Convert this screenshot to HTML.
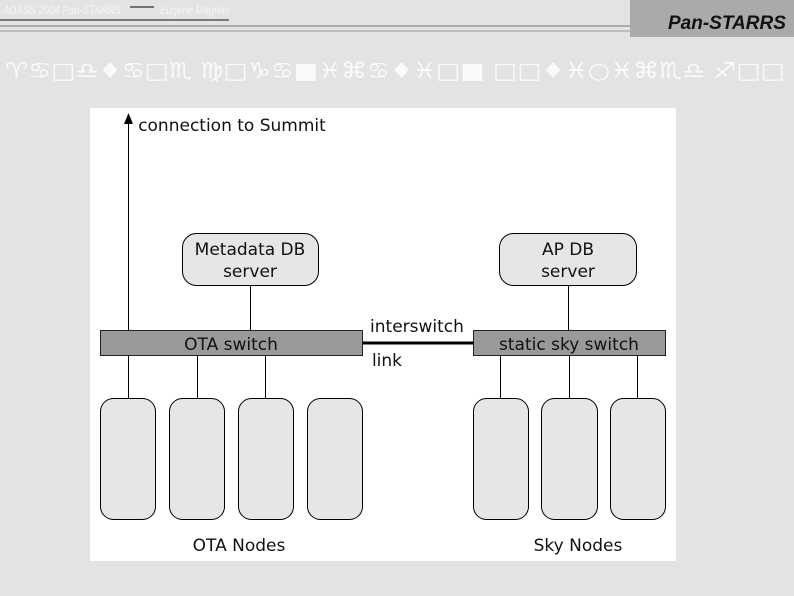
<!DOCTYPE html>
<html><head><meta charset="utf-8"><style>
html,body{margin:0;padding:0}
body{width:794px;height:596px;background:#e2e2e2;position:relative;overflow:hidden;font-family:"DejaVu Sans","Liberation Sans",sans-serif}
</style></head><body>
<svg width="794" height="596" style="position:absolute;left:0;top:0">
<rect x="0" y="0" width="794" height="596" fill="#e3e3e3"/>
<text x="3" y="14" font-size="12" font-style="italic" fill="#f4f4f4" font-family="Liberation Sans" textLength="118" lengthAdjust="spacingAndGlyphs">ADASS 2004   Pan-STARRS</text>
<line x1="130" y1="7" x2="154" y2="7" stroke="#000" stroke-width="1"/>
<text x="160" y="14" font-size="12" font-style="italic" fill="#f4f4f4" font-family="Liberation Sans" textLength="70" lengthAdjust="spacingAndGlyphs">Eugene Magnier</text>
<line x1="0" y1="20" x2="229" y2="20" stroke="#111" stroke-width="1"/>
<line x1="0" y1="26" x2="630" y2="26" stroke="#777" stroke-width="1"/>
<line x1="0" y1="31" x2="630" y2="31" stroke="#99a" stroke-width="1"/>
<rect x="630" y="0" width="164" height="37" fill="#aaa"/>
<text x="668" y="29" font-size="19" font-weight="bold" font-style="italic" fill="#111" font-family="Liberation Sans">Pan-STARRS</text>
<text x="5" y="78" font-size="22" fill="#fafafa" font-family="DejaVu Sans" textLength="780" lengthAdjust="spacingAndGlyphs">♈♋□♎♦♋□♏  ♍□♑♋■♓⌘♋♦♓□■  □□♦♓○♓⌘♏♎  ♐□□</text>
<rect x="90" y="108" width="586" height="453" fill="#fff"/>
<g stroke="#000" stroke-width="1" fill="none">
<line x1="128.5" y1="120" x2="128.5" y2="330"/>
<line x1="250.5" y1="285" x2="250.5" y2="330"/>
<line x1="568.5" y1="285" x2="568.5" y2="330"/>
<line x1="128.5" y1="355" x2="128.5" y2="398"/>
<line x1="197.5" y1="355" x2="197.5" y2="398"/>
<line x1="265.5" y1="355" x2="265.5" y2="398"/>
<line x1="500.5" y1="355" x2="500.5" y2="398"/>
<line x1="569.5" y1="355" x2="569.5" y2="398"/>
<line x1="637.5" y1="355" x2="637.5" y2="398"/>
</g>
<polygon points="128.5,113 124,124 133,124" fill="#000"/>
<line x1="362" y1="343" x2="473" y2="343" stroke="#000" stroke-width="3"/>
<g fill="#e6e6e6" stroke="#000" stroke-width="1">
<rect x="182.5" y="233.5" width="136" height="52" rx="14"/>
<rect x="499.5" y="233.5" width="137" height="52" rx="14"/>
<rect x="100.5" y="398.5" width="55" height="121" rx="13"/>
<rect x="169.5" y="398.5" width="55" height="121" rx="13"/>
<rect x="238.5" y="398.5" width="55" height="121" rx="13"/>
<rect x="307.5" y="398.5" width="55" height="121" rx="13"/>
<rect x="473.5" y="398.5" width="55" height="121" rx="13"/>
<rect x="541.5" y="398.5" width="56" height="121" rx="13"/>
<rect x="610.5" y="398.5" width="55" height="121" rx="13"/>
</g>
<rect x="100.5" y="330.5" width="262" height="25" fill="#999" stroke="#222"/>
<rect x="473.5" y="330.5" width="192" height="25" fill="#999" stroke="#222"/>
<g font-family="DejaVu Sans" font-size="17" fill="#111" text-anchor="middle">
<text x="232" y="131">connection to Summit</text>
<text x="250" y="255">Metadata DB</text>
<text x="250" y="277">server</text>
<text x="568" y="255">AP DB</text>
<text x="568" y="277">server</text>
<text x="231" y="350">OTA switch</text>
<text x="569" y="350">static sky switch</text>
<text x="417" y="332">interswitch</text>
<text x="387" y="366">link</text>
<text x="239" y="551">OTA Nodes</text>
<text x="578" y="551">Sky Nodes</text>
</g>
</svg>
</body></html>
